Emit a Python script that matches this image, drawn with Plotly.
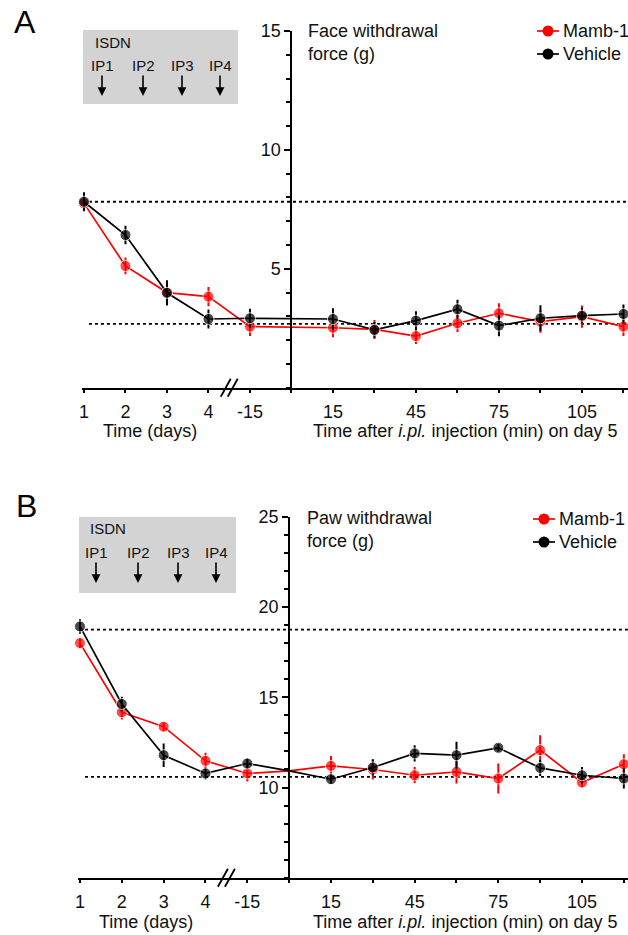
import plotly.graph_objects as go

# ---------------- data ----------------
x_cats = ['1', '2', '3', '4', '-15', '0', '15', '30', '45', '60', '75', '90', '105', '120']
x_tick_text = ['1', '2', '3', '4', '-15', '', '15', '', '45', '', '75', '', '105', '']
x_pos = list(range(len(x_cats)))

# Panel A: face withdrawal force (g)
a_mamb = [7.75, 5.12, 4.00, 3.83, 2.57, None, 2.52, 2.45, 2.17, 2.71, 3.13, 2.78, 2.99, 2.57]
a_mamb_err = [0.3, 0.35, 0.4, 0.4, 0.4, None, 0.4, 0.4, 0.33, 0.37, 0.42, 0.47, 0.47, 0.4]
a_veh = [7.82, 6.42, 3.99, 2.89, 2.92, None, 2.89, 2.43, 2.82, 3.30, 2.61, 2.92, 3.03, 3.10]
a_veh_err = [0.4, 0.39, 0.53, 0.4, 0.4, None, 0.45, 0.33, 0.4, 0.4, 0.45, 0.55, 0.33, 0.4]
a_baseline = [7.82, 2.68]

# Panel B: paw withdrawal force (g)
b_mamb = [18.0, 14.17, 13.37, 11.48, 10.78, 10.92, 11.20, 11.00, 10.68, 10.87, 10.50, 12.07, 10.28, 11.29]
b_mamb_err = [0.28, 0.4, 0.25, 0.45, 0.45, 0.0, 0.55, 0.55, 0.45, 0.65, 0.83, 0.83, 0.28, 0.55]
b_veh = [18.92, 14.63, 11.79, 10.78, 11.33, 10.92, 10.46, 11.11, 11.89, 11.79, 12.20, 11.09, 10.68, 10.50]
b_veh_err = [0.4, 0.4, 0.65, 0.33, 0.28, 0.0, 0.25, 0.45, 0.45, 0.74, 0.2, 0.45, 0.45, 0.55]
b_baseline = [18.74, 10.59]

series_names = ['Mamb-1', 'Vehicle']
colors = ['#ff0000', '#000000']

# ---------------- layout helpers ----------------
W, H = 628, 935
FONT = 'Liberation Sans, Arial, sans-serif'
TXT_COLOR = '#111'


def px(x):
    return x / W


def py(y):
    return 1 - y / H


fig = go.Figure()
shapes = []
ann = []
txt = dict(size=18, color=TXT_COLOR, family=FONT)
small = dict(size=15, color=TXT_COLOR, family=FONT)

panels = [
    dict(xa='x', ya='y', xname='xaxis', yname='yaxis',
         leg=dict(x=(537, 559, 548), text_x=561, rows=[31, 54]),
         data=[(a_mamb, a_mamb_err), (a_veh, a_veh_err)], base=a_baseline,
         xrange=[-0.05, 13.11], xdom=[px(81.9), 1.0],
         yrange=[0, 15], ydom=[py(387.7), py(31)], ytickvals=[5, 10, 15]),
    dict(xa='x2', ya='y2', xname='xaxis2', yname='yaxis2',
         leg=dict(x=(533, 555, 544), text_x=557, rows=[519, 542]),
         data=[(b_mamb, b_mamb_err), (b_veh, b_veh_err)], base=b_baseline,
         xrange=[-0.05, 13.1], xdom=[px(77.9), 1.0],
         yrange=[5, 25], ydom=[py(877.8), py(516.7)], ytickvals=[10, 15, 20, 25]),
]

for p in panels:
    for (vals, errs), name, col, row in zip(p['data'], series_names, colors, p['leg']['rows']):
        sizes = [0 if c == '0' else 11 for c in x_cats]
        fig.add_trace(go.Scatter(
            x=x_pos, y=vals, mode='lines+markers', name=name, showlegend=False,
            xaxis=p['xa'], yaxis=p['ya'],
            connectgaps=True, cliponaxis=False,
            line=dict(color=col, width=1.7),
            marker=dict(color=col, size=sizes),
            error_y=dict(type='data', array=errs, visible=True, color=col,
                         thickness=2, width=0),
        ))
        # legend entry (drawn as decoration)
        lx0, lx1, mx = p['leg']['x']
        shapes.append(dict(type='line', xref='paper', yref='paper', x0=px(lx0), x1=px(lx1),
                           y0=py(row), y1=py(row), line=dict(color=col, width=1.7)))
        shapes.append(dict(type='circle', xref='paper', yref='paper', x0=px(mx - 5.5), x1=px(mx + 5.5),
                           y0=py(row + 5.5), y1=py(row - 5.5), fillcolor=col, line=dict(color=col, width=0)))
        ann.append(dict(text=name, x=px(p['leg']['text_x']), y=py(row), xanchor='left', yanchor='middle',
                        font=dict(size=18, color=TXT_COLOR, family=FONT)))
    # baseline dotted lines
    for b in p['base']:
        shapes.append(dict(type='line', xref=p['xa'], yref=p['ya'],
                           x0=0.12, x1=p['xrange'][1], y0=b, y1=b,
                           line=dict(color='black', width=1.8, dash='3px,3px'), layer='below'))

    r0, r1 = p['xrange']
    d0, d1 = p['xdom']
    # axis break // (paper coords so it is not clipped by the plot area)
    brk_x = (d0 + (3.5 - r0) / (r1 - r0) * (d1 - d0)) * W
    brk_y = (1 - p['ydom'][0]) * H
    for off in (-3.5, 3.5):
        shapes.append(dict(type='line', xref='paper', yref='paper',
                           x0=px(brk_x + off - 5), x1=px(brk_x + off + 5),
                           y0=py(brk_y + 9), y1=py(brk_y - 9),
                           line=dict(color='black', width=1.8)))

    ypos = d0 + (5 - r0) / (r1 - r0) * (d1 - d0)
    fig.layout[p['xname']] = dict(
        domain=p['xdom'], range=p['xrange'], anchor=p['ya'],
        tickmode='array', tickvals=x_pos, ticktext=x_tick_text,
        ticks='outside', ticklen=3, tickwidth=1.8, tickcolor='black',
        showline=True, linewidth=2, linecolor='black',
        showgrid=False, zeroline=False, ticklabelstandoff=4,
        tickfont=dict(size=18, color=TXT_COLOR, family=FONT),
    )
    fig.layout[p['yname']] = dict(
        domain=p['ydom'], range=p['yrange'], anchor='free', position=ypos,
        tickmode='array', tickvals=p['ytickvals'],
        ticks='outside', ticklen=6, tickwidth=1.8, tickcolor='black',
        minor=dict(dtick=1, tick0=0, ticks='outside', ticklen=4, tickwidth=1.5, tickcolor='black'),
        showline=True, linewidth=2, linecolor='black',
        showgrid=False, zeroline=False,
        tickfont=dict(size=18, color=TXT_COLOR, family=FONT),
    )

# ---------------- annotations / decorations ----------------
# panel letters
ann.append(dict(text='A', x=px(12), y=py(22), xanchor='left', yanchor='middle', font=dict(size=32, color='#000', family=FONT)))
ann.append(dict(text='B', x=px(14), y=py(506), xanchor='left', yanchor='middle', font=dict(size=32, color='#000', family=FONT)))

# y-axis titles
ann.append(dict(text='Face withdrawal<br>force (g)', x=px(306), y=py(42), xanchor='left', yanchor='middle', align='left', font=txt))
ann.append(dict(text='Paw withdrawal<br>force (g)', x=px(305), y=py(529), xanchor='left', yanchor='middle', align='left', font=txt))

# x-axis titles
ann.append(dict(text='Time (days)', x=px(150), y=py(431), xanchor='center', yanchor='middle', font=txt))
ann.append(dict(text='Time after <i>i.pl.</i> injection (min) on day 5', x=px(465), y=py(431), xanchor='center', yanchor='middle', font=txt))
ann.append(dict(text='Time (days)', x=px(146), y=py(922), xanchor='center', yanchor='middle', font=txt))
ann.append(dict(text='Time after <i>i.pl.</i> injection (min) on day 5', x=px(465), y=py(922), xanchor='center', yanchor='middle', font=txt))

# ISDN boxes
boxes = [
    dict(x0=83, x1=238, y0=30, y1=104, isdn=(93, 42), ipx=[102, 143, 182, 220], ipy=66, ar=(74, 96)),
    dict(x0=79, x1=236, y0=517, y1=593, isdn=(88, 528), ipx=[96, 138, 178, 216], ipy=552, ar=(561, 583)),
]
for b in boxes:
    shapes.append(dict(type='rect', xref='paper', yref='paper', x0=px(b['x0']), x1=px(b['x1']),
                       y0=py(b['y1']), y1=py(b['y0']), fillcolor='#d3d3d3', line=dict(width=0), layer='below'))
    ann.append(dict(text='ISDN', x=px(b['isdn'][0]), y=py(b['isdn'][1]), xanchor='left', yanchor='middle', font=small))
    for i, xc in enumerate(b['ipx']):
        ann.append(dict(text='IP%d' % (i + 1), x=px(xc), y=py(b['ipy']), xanchor='center', yanchor='middle', font=small))
        ann.append(dict(text='', x=px(xc), y=py(b['ar'][1]), ax=0, ay=-(b['ar'][1] - b['ar'][0]),
                        showarrow=True, arrowhead=2, arrowsize=1.1, arrowwidth=1.6, arrowcolor='black', standoff=0))

for a in ann:
    a.setdefault('showarrow', False)
    a['xref'] = 'paper'
    a['yref'] = 'paper'

fig.update_layout(
    width=W, height=H, margin=dict(l=0, r=0, t=0, b=0, autoexpand=False),
    plot_bgcolor='white', paper_bgcolor='white',
    font=dict(family=FONT, size=18, color=TXT_COLOR),
    showlegend=False, annotations=ann, shapes=shapes,
)

fig.write_html('out.html', config={'displayModeBar': False},
               post_script="document.body.style.margin='0';document.body.style.padding='0';"
                           "document.documentElement.style.overflow='hidden';document.body.style.overflow='hidden';")
